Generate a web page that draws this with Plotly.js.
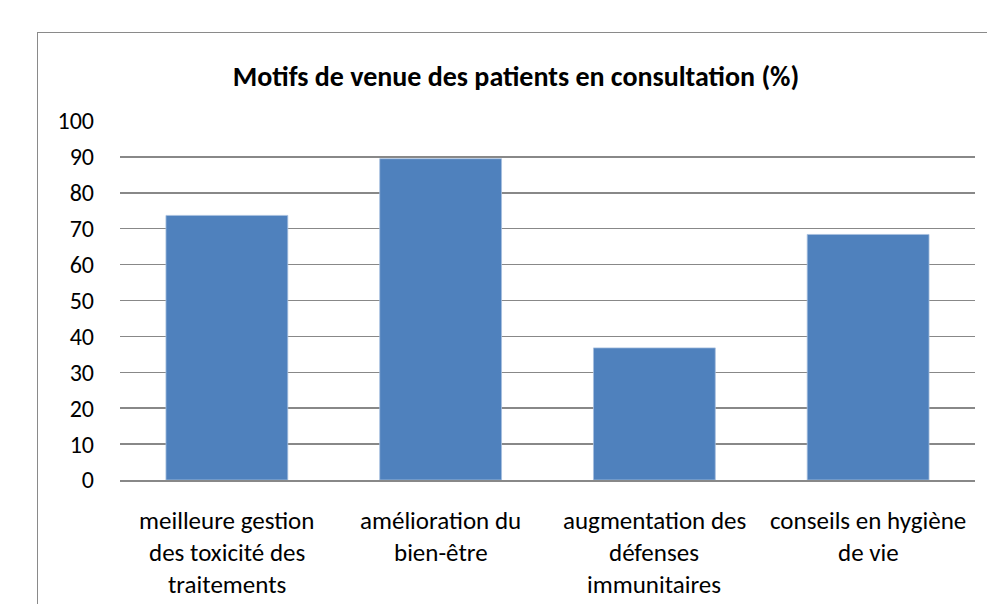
<!DOCTYPE html>
<html>
<head>
<meta charset="utf-8">
<script src="https://cdn.plot.ly/plotly-3.0.1.min.js"></script>
<style>
html,body{margin:0;padding:0;background:#fff;overflow:hidden;}
#frame{position:absolute;left:37px;top:32px;width:1000px;height:700px;border:1.5px solid #8a8a8a;box-sizing:border-box;}
#chart{position:absolute;left:0;top:0;width:987px;height:604px;}
</style>
</head>
<body>
<div id="frame"></div>
<div id="chart"></div>
<script>
const categories = ["meilleure gestion", "amélioration du", "augmentation des", "conseils en hygiène"];
const labelLines = [
  ["meilleure gestion", "des toxicité des", "traitements"],
  ["amélioration du", "bien-être"],
  ["augmentation des", "défenses", "immunitaires"],
  ["conseils en hygiène", "de vie"]
];
const values = [73.7, 89.5, 36.8, 68.4];
const yTicks = [0, 10, 20, 30, 40, 50, 60, 70, 80, 90, 100];
const titleText = "Motifs de venue des patients en consultation (%)";

const FONT = "Carlito, Calibri, 'Liberation Sans Narrow', 'Liberation Sans', Arial, sans-serif";

const annotations = [];
labelLines.forEach((lines, i) => {
  lines.forEach((ln, j) => {
    annotations.push({
      x: categories[i], xref: 'x', y: 0, yref: 'paper',
      yanchor: 'middle', xanchor: 'center',
      yshift: -(40 + 32 * j),
      text: ln, showarrow: false,
      font: {family: FONT, size: 25, color: '#000'}
    });
  });
});

const data = [{
  type: 'bar',
  x: categories,
  y: values,
  marker: {color: '#4f81bd', line: {color: '#a7bfde', width: 0.8}},
  hoverinfo: 'y'
}];

const layout = {
  width: 987, height: 604,
  margin: {l: 120, r: 12, t: 121, b: 124},
  paper_bgcolor: 'rgba(0,0,0,0)',
  plot_bgcolor: 'rgba(0,0,0,0)',
  bargap: 0.43,
  showlegend: false,
  title: {
    text: '<b>' + titleText + '</b>',
    font: {family: FONT, size: 28, color: '#000'},
    x: 516 / 987, xanchor: 'center', xref: 'container',
    y: 1 - 76 / 604, yref: 'container', yanchor: 'middle'
  },
  xaxis: {
    type: 'category',
    showticklabels: false,
    showgrid: false,
    showline: true, linecolor: '#888888', linewidth: 1.5,
    ticks: '', fixedrange: true
  },
  yaxis: {
    range: [0, 100],
    tickvals: yTicks,
    ticktext: yTicks.map(String),
    showgrid: true, gridcolor: '#888888', gridwidth: 1.5,
    zeroline: false, showline: false,
    ticks: '', ticklabelstandoff: 25,
    tickfont: {family: FONT, size: 24, color: '#000'},
    fixedrange: true
  },
  annotations: annotations
};

Plotly.newPlot('chart', data, layout, {displayModeBar: false, staticPlot: true});
</script>
</body>
</html>
